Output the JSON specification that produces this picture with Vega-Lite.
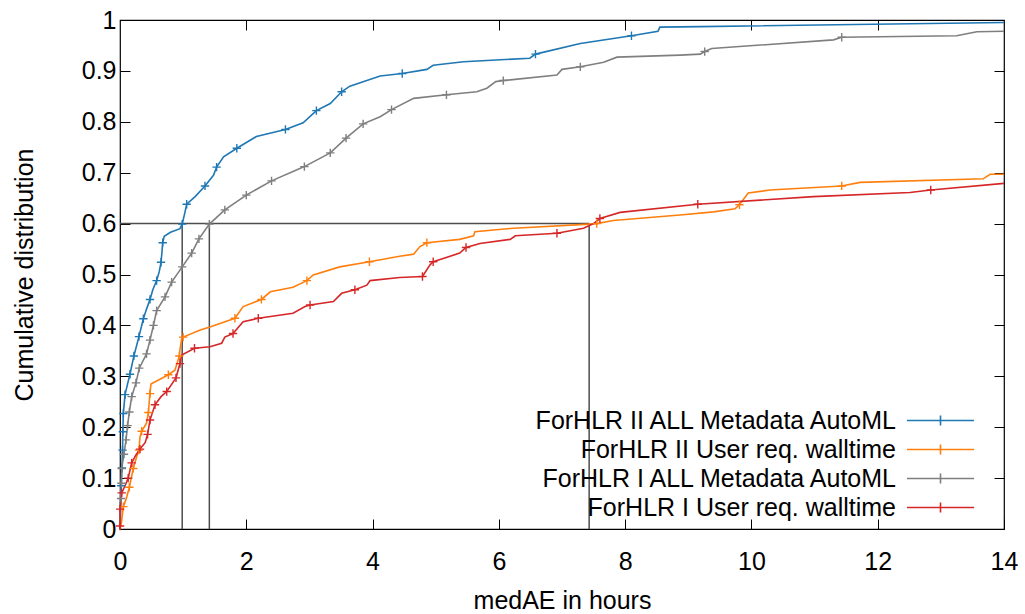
{
  "$schema": "https://vega.github.io/schema/vega-lite/v6.json",
  "width": 884,
  "height": 509,
  "autosize": "none",
  "padding": {"left": 120, "top": 20, "right": 21, "bottom": 85},
  "background": "white",
  "config": {
    "font": "Liberation Sans",
    "view": {"stroke": "black", "strokeWidth": 1.2},
    "axis": {
      "labelFont": "Liberation Sans", "labelFontSize": 25, "labelColor": "black", "labelFlush": false,
      "titleFont": "Liberation Sans", "titleFontSize": 25, "titleFontWeight": "normal", "titleColor": "black",
      "domain": false, "grid": false, "tickColor": "black", "tickSize": -10, "tickWidth": 1
    },
    "legend": {
      "labelFont": "Liberation Sans", "labelFontSize": 25, "labelColor": "black", "labelLimit": 600
    }
  },
  "datasets": {
    "cdf": [
      {"s": "ForHLR II ALL Metadata AutoML", "h": 0, "c": 0, "m": 0},
      {"s": "ForHLR II ALL Metadata AutoML", "h": 0.005, "c": 0.05, "m": 0},
      {"s": "ForHLR II ALL Metadata AutoML", "h": 0.02, "c": 0.085, "m": 1},
      {"s": "ForHLR II ALL Metadata AutoML", "h": 0.03, "c": 0.12, "m": 1},
      {"s": "ForHLR II ALL Metadata AutoML", "h": 0.04, "c": 0.155, "m": 1},
      {"s": "ForHLR II ALL Metadata AutoML", "h": 0.045, "c": 0.191, "m": 1},
      {"s": "ForHLR II ALL Metadata AutoML", "h": 0.053, "c": 0.227, "m": 1},
      {"s": "ForHLR II ALL Metadata AutoML", "h": 0.08, "c": 0.264, "m": 1},
      {"s": "ForHLR II ALL Metadata AutoML", "h": 0.12, "c": 0.285, "m": 0},
      {"s": "ForHLR II ALL Metadata AutoML", "h": 0.158, "c": 0.304, "m": 1},
      {"s": "ForHLR II ALL Metadata AutoML", "h": 0.22, "c": 0.34, "m": 1},
      {"s": "ForHLR II ALL Metadata AutoML", "h": 0.3, "c": 0.378, "m": 1},
      {"s": "ForHLR II ALL Metadata AutoML", "h": 0.37, "c": 0.413, "m": 1},
      {"s": "ForHLR II ALL Metadata AutoML", "h": 0.42, "c": 0.432, "m": 0},
      {"s": "ForHLR II ALL Metadata AutoML", "h": 0.475, "c": 0.451, "m": 1},
      {"s": "ForHLR II ALL Metadata AutoML", "h": 0.52, "c": 0.47, "m": 0},
      {"s": "ForHLR II ALL Metadata AutoML", "h": 0.58, "c": 0.488, "m": 1},
      {"s": "ForHLR II ALL Metadata AutoML", "h": 0.62, "c": 0.505, "m": 0},
      {"s": "ForHLR II ALL Metadata AutoML", "h": 0.65, "c": 0.524, "m": 1},
      {"s": "ForHLR II ALL Metadata AutoML", "h": 0.665, "c": 0.545, "m": 0},
      {"s": "ForHLR II ALL Metadata AutoML", "h": 0.676, "c": 0.5625, "m": 1},
      {"s": "ForHLR II ALL Metadata AutoML", "h": 0.7, "c": 0.575, "m": 0},
      {"s": "ForHLR II ALL Metadata AutoML", "h": 0.8, "c": 0.583, "m": 0},
      {"s": "ForHLR II ALL Metadata AutoML", "h": 0.95, "c": 0.59, "m": 0},
      {"s": "ForHLR II ALL Metadata AutoML", "h": 0.985, "c": 0.599, "m": 1},
      {"s": "ForHLR II ALL Metadata AutoML", "h": 1.03, "c": 0.623, "m": 0},
      {"s": "ForHLR II ALL Metadata AutoML", "h": 1.056, "c": 0.638, "m": 1},
      {"s": "ForHLR II ALL Metadata AutoML", "h": 1.19, "c": 0.653, "m": 0},
      {"s": "ForHLR II ALL Metadata AutoML", "h": 1.346, "c": 0.674, "m": 1},
      {"s": "ForHLR II ALL Metadata AutoML", "h": 1.48, "c": 0.695, "m": 0},
      {"s": "ForHLR II ALL Metadata AutoML", "h": 1.53, "c": 0.711, "m": 1},
      {"s": "ForHLR II ALL Metadata AutoML", "h": 1.64, "c": 0.731, "m": 0},
      {"s": "ForHLR II ALL Metadata AutoML", "h": 1.85, "c": 0.748, "m": 1},
      {"s": "ForHLR II ALL Metadata AutoML", "h": 2.16, "c": 0.771, "m": 0},
      {"s": "ForHLR II ALL Metadata AutoML", "h": 2.62, "c": 0.785, "m": 1},
      {"s": "ForHLR II ALL Metadata AutoML", "h": 2.9, "c": 0.798, "m": 0},
      {"s": "ForHLR II ALL Metadata AutoML", "h": 3.11, "c": 0.822, "m": 1},
      {"s": "ForHLR II ALL Metadata AutoML", "h": 3.33, "c": 0.836, "m": 0},
      {"s": "ForHLR II ALL Metadata AutoML", "h": 3.51, "c": 0.859, "m": 1},
      {"s": "ForHLR II ALL Metadata AutoML", "h": 3.64, "c": 0.87, "m": 0},
      {"s": "ForHLR II ALL Metadata AutoML", "h": 4.12, "c": 0.89, "m": 0},
      {"s": "ForHLR II ALL Metadata AutoML", "h": 4.47, "c": 0.895, "m": 1},
      {"s": "ForHLR II ALL Metadata AutoML", "h": 4.86, "c": 0.903, "m": 0},
      {"s": "ForHLR II ALL Metadata AutoML", "h": 4.96, "c": 0.911, "m": 0},
      {"s": "ForHLR II ALL Metadata AutoML", "h": 5.44, "c": 0.918, "m": 0},
      {"s": "ForHLR II ALL Metadata AutoML", "h": 6.49, "c": 0.925, "m": 0},
      {"s": "ForHLR II ALL Metadata AutoML", "h": 6.58, "c": 0.933, "m": 1},
      {"s": "ForHLR II ALL Metadata AutoML", "h": 7.29, "c": 0.954, "m": 0},
      {"s": "ForHLR II ALL Metadata AutoML", "h": 8.1, "c": 0.969, "m": 1},
      {"s": "ForHLR II ALL Metadata AutoML", "h": 8.52, "c": 0.978, "m": 0},
      {"s": "ForHLR II ALL Metadata AutoML", "h": 8.55, "c": 0.986, "m": 0},
      {"s": "ForHLR II ALL Metadata AutoML", "h": 9.19, "c": 0.987, "m": 0},
      {"s": "ForHLR II ALL Metadata AutoML", "h": 14, "c": 0.995, "m": 0},

      {"s": "ForHLR II User req. walltime", "h": 0, "c": 0, "m": 0},
      {"s": "ForHLR II User req. walltime", "h": 0.02, "c": 0.01, "m": 0},
      {"s": "ForHLR II User req. walltime", "h": 0.053, "c": 0.044, "m": 1},
      {"s": "ForHLR II User req. walltime", "h": 0.1, "c": 0.06, "m": 0},
      {"s": "ForHLR II User req. walltime", "h": 0.148, "c": 0.082, "m": 1},
      {"s": "ForHLR II User req. walltime", "h": 0.21, "c": 0.119, "m": 1},
      {"s": "ForHLR II User req. walltime", "h": 0.28, "c": 0.149, "m": 0},
      {"s": "ForHLR II User req. walltime", "h": 0.3, "c": 0.155, "m": 1},
      {"s": "ForHLR II User req. walltime", "h": 0.317, "c": 0.181, "m": 0},
      {"s": "ForHLR II User req. walltime", "h": 0.343, "c": 0.192, "m": 1},
      {"s": "ForHLR II User req. walltime", "h": 0.42, "c": 0.208, "m": 0},
      {"s": "ForHLR II User req. walltime", "h": 0.45, "c": 0.229, "m": 1},
      {"s": "ForHLR II User req. walltime", "h": 0.47, "c": 0.26, "m": 0},
      {"s": "ForHLR II User req. walltime", "h": 0.475, "c": 0.266, "m": 1},
      {"s": "ForHLR II User req. walltime", "h": 0.49, "c": 0.285, "m": 0},
      {"s": "ForHLR II User req. walltime", "h": 0.766, "c": 0.303, "m": 1},
      {"s": "ForHLR II User req. walltime", "h": 0.87, "c": 0.312, "m": 0},
      {"s": "ForHLR II User req. walltime", "h": 0.94, "c": 0.34, "m": 1},
      {"s": "ForHLR II User req. walltime", "h": 0.95, "c": 0.352, "m": 0},
      {"s": "ForHLR II User req. walltime", "h": 0.977, "c": 0.375, "m": 0},
      {"s": "ForHLR II User req. walltime", "h": 1.0, "c": 0.377, "m": 1},
      {"s": "ForHLR II User req. walltime", "h": 1.27, "c": 0.391, "m": 0},
      {"s": "ForHLR II User req. walltime", "h": 1.425, "c": 0.397, "m": 0},
      {"s": "ForHLR II User req. walltime", "h": 1.82, "c": 0.414, "m": 1},
      {"s": "ForHLR II User req. walltime", "h": 1.95, "c": 0.437, "m": 0},
      {"s": "ForHLR II User req. walltime", "h": 2.24, "c": 0.451, "m": 1},
      {"s": "ForHLR II User req. walltime", "h": 2.38, "c": 0.466, "m": 0},
      {"s": "ForHLR II User req. walltime", "h": 2.74, "c": 0.475, "m": 0},
      {"s": "ForHLR II User req. walltime", "h": 2.96, "c": 0.488, "m": 1},
      {"s": "ForHLR II User req. walltime", "h": 3.06, "c": 0.499, "m": 0},
      {"s": "ForHLR II User req. walltime", "h": 3.48, "c": 0.515, "m": 0},
      {"s": "ForHLR II User req. walltime", "h": 3.95, "c": 0.525, "m": 1},
      {"s": "ForHLR II User req. walltime", "h": 4.43, "c": 0.536, "m": 0},
      {"s": "ForHLR II User req. walltime", "h": 4.65, "c": 0.54, "m": 0},
      {"s": "ForHLR II User req. walltime", "h": 4.75, "c": 0.555, "m": 0},
      {"s": "ForHLR II User req. walltime", "h": 4.86, "c": 0.5625, "m": 1},
      {"s": "ForHLR II User req. walltime", "h": 5.38, "c": 0.569, "m": 0},
      {"s": "ForHLR II User req. walltime", "h": 5.6, "c": 0.576, "m": 0},
      {"s": "ForHLR II User req. walltime", "h": 5.62, "c": 0.584, "m": 0},
      {"s": "ForHLR II User req. walltime", "h": 6.23, "c": 0.591, "m": 0},
      {"s": "ForHLR II User req. walltime", "h": 7.44, "c": 0.599, "m": 0},
      {"s": "ForHLR II User req. walltime", "h": 7.55, "c": 0.6, "m": 1},
      {"s": "ForHLR II User req. walltime", "h": 7.81, "c": 0.606, "m": 0},
      {"s": "ForHLR II User req. walltime", "h": 8.87, "c": 0.617, "m": 0},
      {"s": "ForHLR II User req. walltime", "h": 9.4, "c": 0.623, "m": 0},
      {"s": "ForHLR II User req. walltime", "h": 9.74, "c": 0.629, "m": 0},
      {"s": "ForHLR II User req. walltime", "h": 9.81, "c": 0.637, "m": 1},
      {"s": "ForHLR II User req. walltime", "h": 9.95, "c": 0.66, "m": 0},
      {"s": "ForHLR II User req. walltime", "h": 10.29, "c": 0.666, "m": 0},
      {"s": "ForHLR II User req. walltime", "h": 11.43, "c": 0.674, "m": 1},
      {"s": "ForHLR II User req. walltime", "h": 11.72, "c": 0.681, "m": 0},
      {"s": "ForHLR II User req. walltime", "h": 13.67, "c": 0.688, "m": 0},
      {"s": "ForHLR II User req. walltime", "h": 13.78, "c": 0.697, "m": 0},
      {"s": "ForHLR II User req. walltime", "h": 14, "c": 0.697, "m": 0},

      {"s": "ForHLR I ALL Metadata AutoML", "h": 0, "c": 0, "m": 0},
      {"s": "ForHLR I ALL Metadata AutoML", "h": 0.01, "c": 0.03, "m": 0},
      {"s": "ForHLR I ALL Metadata AutoML", "h": 0.018, "c": 0.06, "m": 1},
      {"s": "ForHLR I ALL Metadata AutoML", "h": 0.022, "c": 0.09, "m": 1},
      {"s": "ForHLR I ALL Metadata AutoML", "h": 0.027, "c": 0.119, "m": 1},
      {"s": "ForHLR I ALL Metadata AutoML", "h": 0.063, "c": 0.147, "m": 1},
      {"s": "ForHLR I ALL Metadata AutoML", "h": 0.095, "c": 0.175, "m": 1},
      {"s": "ForHLR I ALL Metadata AutoML", "h": 0.12, "c": 0.203, "m": 1},
      {"s": "ForHLR I ALL Metadata AutoML", "h": 0.148, "c": 0.23, "m": 1},
      {"s": "ForHLR I ALL Metadata AutoML", "h": 0.185, "c": 0.26, "m": 1},
      {"s": "ForHLR I ALL Metadata AutoML", "h": 0.253, "c": 0.287, "m": 1},
      {"s": "ForHLR I ALL Metadata AutoML", "h": 0.305, "c": 0.316, "m": 1},
      {"s": "ForHLR I ALL Metadata AutoML", "h": 0.42, "c": 0.344, "m": 1},
      {"s": "ForHLR I ALL Metadata AutoML", "h": 0.475, "c": 0.371, "m": 1},
      {"s": "ForHLR I ALL Metadata AutoML", "h": 0.53, "c": 0.4, "m": 1},
      {"s": "ForHLR I ALL Metadata AutoML", "h": 0.58, "c": 0.429, "m": 1},
      {"s": "ForHLR I ALL Metadata AutoML", "h": 0.713, "c": 0.456, "m": 1},
      {"s": "ForHLR I ALL Metadata AutoML", "h": 0.818, "c": 0.485, "m": 1},
      {"s": "ForHLR I ALL Metadata AutoML", "h": 0.985, "c": 0.515, "m": 1},
      {"s": "ForHLR I ALL Metadata AutoML", "h": 1.135, "c": 0.542, "m": 1},
      {"s": "ForHLR I ALL Metadata AutoML", "h": 1.25, "c": 0.57, "m": 1},
      {"s": "ForHLR I ALL Metadata AutoML", "h": 1.415, "c": 0.599, "m": 1},
      {"s": "ForHLR I ALL Metadata AutoML", "h": 1.66, "c": 0.627, "m": 1},
      {"s": "ForHLR I ALL Metadata AutoML", "h": 2.0, "c": 0.656, "m": 1},
      {"s": "ForHLR I ALL Metadata AutoML", "h": 2.4, "c": 0.684, "m": 1},
      {"s": "ForHLR I ALL Metadata AutoML", "h": 2.92, "c": 0.712, "m": 1},
      {"s": "ForHLR I ALL Metadata AutoML", "h": 3.33, "c": 0.739, "m": 1},
      {"s": "ForHLR I ALL Metadata AutoML", "h": 3.58, "c": 0.768, "m": 1},
      {"s": "ForHLR I ALL Metadata AutoML", "h": 3.85, "c": 0.796, "m": 1},
      {"s": "ForHLR I ALL Metadata AutoML", "h": 4.12, "c": 0.81, "m": 0},
      {"s": "ForHLR I ALL Metadata AutoML", "h": 4.3, "c": 0.824, "m": 1},
      {"s": "ForHLR I ALL Metadata AutoML", "h": 4.65, "c": 0.846, "m": 0},
      {"s": "ForHLR I ALL Metadata AutoML", "h": 5.17, "c": 0.853, "m": 1},
      {"s": "ForHLR I ALL Metadata AutoML", "h": 5.65, "c": 0.859, "m": 0},
      {"s": "ForHLR I ALL Metadata AutoML", "h": 5.81, "c": 0.866, "m": 0},
      {"s": "ForHLR I ALL Metadata AutoML", "h": 5.95, "c": 0.879, "m": 0},
      {"s": "ForHLR I ALL Metadata AutoML", "h": 6.07, "c": 0.881, "m": 1},
      {"s": "ForHLR I ALL Metadata AutoML", "h": 6.92, "c": 0.892, "m": 0},
      {"s": "ForHLR I ALL Metadata AutoML", "h": 7.0, "c": 0.903, "m": 0},
      {"s": "ForHLR I ALL Metadata AutoML", "h": 7.29, "c": 0.908, "m": 1},
      {"s": "ForHLR I ALL Metadata AutoML", "h": 7.66, "c": 0.917, "m": 0},
      {"s": "ForHLR I ALL Metadata AutoML", "h": 7.87, "c": 0.927, "m": 0},
      {"s": "ForHLR I ALL Metadata AutoML", "h": 8.87, "c": 0.931, "m": 0},
      {"s": "ForHLR I ALL Metadata AutoML", "h": 9.19, "c": 0.933, "m": 0},
      {"s": "ForHLR I ALL Metadata AutoML", "h": 9.26, "c": 0.938, "m": 1},
      {"s": "ForHLR I ALL Metadata AutoML", "h": 9.37, "c": 0.944, "m": 0},
      {"s": "ForHLR I ALL Metadata AutoML", "h": 11.3, "c": 0.961, "m": 0},
      {"s": "ForHLR I ALL Metadata AutoML", "h": 11.43, "c": 0.966, "m": 1},
      {"s": "ForHLR I ALL Metadata AutoML", "h": 13.25, "c": 0.969, "m": 0},
      {"s": "ForHLR I ALL Metadata AutoML", "h": 13.57, "c": 0.977, "m": 0},
      {"s": "ForHLR I ALL Metadata AutoML", "h": 14, "c": 0.978, "m": 0},

      {"s": "ForHLR I User req. walltime", "h": 0, "c": 0, "m": 0},
      {"s": "ForHLR I User req. walltime", "h": 0.001, "c": 0.006, "m": 1},
      {"s": "ForHLR I User req. walltime", "h": 0.002, "c": 0.039, "m": 1},
      {"s": "ForHLR I User req. walltime", "h": 0.027, "c": 0.071, "m": 1},
      {"s": "ForHLR I User req. walltime", "h": 0.08, "c": 0.085, "m": 0},
      {"s": "ForHLR I User req. walltime", "h": 0.13, "c": 0.1, "m": 1},
      {"s": "ForHLR I User req. walltime", "h": 0.185, "c": 0.13, "m": 1},
      {"s": "ForHLR I User req. walltime", "h": 0.25, "c": 0.145, "m": 0},
      {"s": "ForHLR I User req. walltime", "h": 0.317, "c": 0.157, "m": 1},
      {"s": "ForHLR I User req. walltime", "h": 0.4, "c": 0.17, "m": 0},
      {"s": "ForHLR I User req. walltime", "h": 0.437, "c": 0.186, "m": 1},
      {"s": "ForHLR I User req. walltime", "h": 0.475, "c": 0.214, "m": 1},
      {"s": "ForHLR I User req. walltime", "h": 0.554, "c": 0.244, "m": 1},
      {"s": "ForHLR I User req. walltime", "h": 0.65, "c": 0.26, "m": 0},
      {"s": "ForHLR I User req. walltime", "h": 0.74, "c": 0.27, "m": 1},
      {"s": "ForHLR I User req. walltime", "h": 0.887, "c": 0.297, "m": 1},
      {"s": "ForHLR I User req. walltime", "h": 0.95, "c": 0.325, "m": 1},
      {"s": "ForHLR I User req. walltime", "h": 0.977, "c": 0.342, "m": 0},
      {"s": "ForHLR I User req. walltime", "h": 1.18, "c": 0.355, "m": 1},
      {"s": "ForHLR I User req. walltime", "h": 1.425, "c": 0.358, "m": 0},
      {"s": "ForHLR I User req. walltime", "h": 1.61, "c": 0.365, "m": 0},
      {"s": "ForHLR I User req. walltime", "h": 1.66, "c": 0.377, "m": 0},
      {"s": "ForHLR I User req. walltime", "h": 1.79, "c": 0.384, "m": 1},
      {"s": "ForHLR I User req. walltime", "h": 1.95, "c": 0.407, "m": 0},
      {"s": "ForHLR I User req. walltime", "h": 2.19, "c": 0.414, "m": 1},
      {"s": "ForHLR I User req. walltime", "h": 2.74, "c": 0.424, "m": 0},
      {"s": "ForHLR I User req. walltime", "h": 2.93, "c": 0.437, "m": 0},
      {"s": "ForHLR I User req. walltime", "h": 3.01, "c": 0.44, "m": 1},
      {"s": "ForHLR I User req. walltime", "h": 3.38, "c": 0.447, "m": 0},
      {"s": "ForHLR I User req. walltime", "h": 3.51, "c": 0.463, "m": 0},
      {"s": "ForHLR I User req. walltime", "h": 3.72, "c": 0.47, "m": 1},
      {"s": "ForHLR I User req. walltime", "h": 3.91, "c": 0.479, "m": 0},
      {"s": "ForHLR I User req. walltime", "h": 3.96, "c": 0.488, "m": 0},
      {"s": "ForHLR I User req. walltime", "h": 4.43, "c": 0.494, "m": 0},
      {"s": "ForHLR I User req. walltime", "h": 4.79, "c": 0.496, "m": 1},
      {"s": "ForHLR I User req. walltime", "h": 4.91, "c": 0.519, "m": 0},
      {"s": "ForHLR I User req. walltime", "h": 4.96, "c": 0.525, "m": 1},
      {"s": "ForHLR I User req. walltime", "h": 5.38, "c": 0.542, "m": 0},
      {"s": "ForHLR I User req. walltime", "h": 5.48, "c": 0.553, "m": 1},
      {"s": "ForHLR I User req. walltime", "h": 5.7, "c": 0.561, "m": 0},
      {"s": "ForHLR I User req. walltime", "h": 6.18, "c": 0.569, "m": 0},
      {"s": "ForHLR I User req. walltime", "h": 6.26, "c": 0.576, "m": 0},
      {"s": "ForHLR I User req. walltime", "h": 6.92, "c": 0.581, "m": 1},
      {"s": "ForHLR I User req. walltime", "h": 7.34, "c": 0.591, "m": 0},
      {"s": "ForHLR I User req. walltime", "h": 7.5, "c": 0.6, "m": 0},
      {"s": "ForHLR I User req. walltime", "h": 7.6, "c": 0.61, "m": 1},
      {"s": "ForHLR I User req. walltime", "h": 7.92, "c": 0.622, "m": 0},
      {"s": "ForHLR I User req. walltime", "h": 9.15, "c": 0.638, "m": 1},
      {"s": "ForHLR I User req. walltime", "h": 10.98, "c": 0.653, "m": 0},
      {"s": "ForHLR I User req. walltime", "h": 12.51, "c": 0.661, "m": 0},
      {"s": "ForHLR I User req. walltime", "h": 12.84, "c": 0.666, "m": 1},
      {"s": "ForHLR I User req. walltime", "h": 14, "c": 0.679, "m": 0}
    ],
    "refs": [
      {"x": 0, "x2": 7.43, "y": 0.6, "y2": 0.6},
      {"x": 0.985, "x2": 0.985, "y": 0, "y2": 0.6},
      {"x": 1.415, "x2": 1.415, "y": 0, "y2": 0.6},
      {"x": 7.43, "x2": 7.43, "y": 0, "y2": 0.6}
    ]
  },
  "resolve": {"axis": {"x": "independent", "y": "independent"}},
  "layer": [
    {
      "data": {"name": "refs"},
      "mark": {"type": "rule", "color": "#4d4d4d", "strokeWidth": 1.5},
      "encoding": {
        "x": {"field": "x", "type": "quantitative", "scale": {"domain": [0, 14], "nice": false, "zero": false},
              "axis": {"orient": "top", "labels": false, "title": null, "values": [2, 4, 6, 8, 10, 12]}},
        "x2": {"field": "x2"},
        "y": {"field": "y", "type": "quantitative", "scale": {"domain": [0, 1], "nice": false},
              "axis": {"orient": "right", "labels": false, "title": null, "values": [0.1, 0.2, 0.3, 0.4, 0.5, 0.6, 0.7, 0.8, 0.9]}},
        "y2": {"field": "y2"}
      }
    },
    {
      "data": {"name": "cdf"},
      "mark": {"type": "line", "strokeWidth": 1.6, "interpolate": "linear"},
      "encoding": {
        "x": {"field": "h", "type": "quantitative", "scale": {"domain": [0, 14], "nice": false, "zero": false},
              "axis": {"orient": "bottom", "title": "medAE in hours", "values": [0, 2, 4, 6, 8, 10, 12, 14], "labelPadding": 30, "titlePadding": 14}},
        "y": {"field": "c", "type": "quantitative", "scale": {"domain": [0, 1], "nice": false},
              "axis": {"orient": "left", "title": "Cumulative distribution", "values": [0, 0.1, 0.2, 0.3, 0.4, 0.5, 0.6, 0.7, 0.8, 0.9, 1], "format": "~g", "labelPadding": 14, "titlePadding": 44}},
        "color": {
          "field": "s", "type": "nominal",
          "scale": {
            "domain": ["ForHLR II ALL Metadata AutoML", "ForHLR II User req. walltime", "ForHLR I ALL Metadata AutoML", "ForHLR I User req. walltime"],
            "range": ["#1f77b4", "#ff7f0e", "#7f7f7f", "#d62728"]
          },
          "legend": {
            "title": null, "orient": "none", "legendX": 808, "legendY": 388,
            "symbolType": "M-4,0H4M0,-0.6V0.6", "symbolSize": 281, "symbolStrokeWidth": 1.6,
            "labelFontSize": 25, "rowPadding": 3, "labelAlign": "right", "labelOffset": -57, "symbolOffset": 0
          }
        },
        "detail": {"field": "s"}
      }
    },
    {
      "data": {"name": "cdf"},
      "transform": [{"filter": "datum.m == 1"}],
      "mark": {"type": "point", "shape": "M-1,0H1M0,-1V1", "filled": false, "size": 70, "strokeWidth": 1.4, "opacity": 1},
      "encoding": {
        "x": {"field": "h", "type": "quantitative", "axis": null},
        "y": {"field": "c", "type": "quantitative", "axis": null},
        "color": {"field": "s", "type": "nominal"}
      }
    }
  ]
}
